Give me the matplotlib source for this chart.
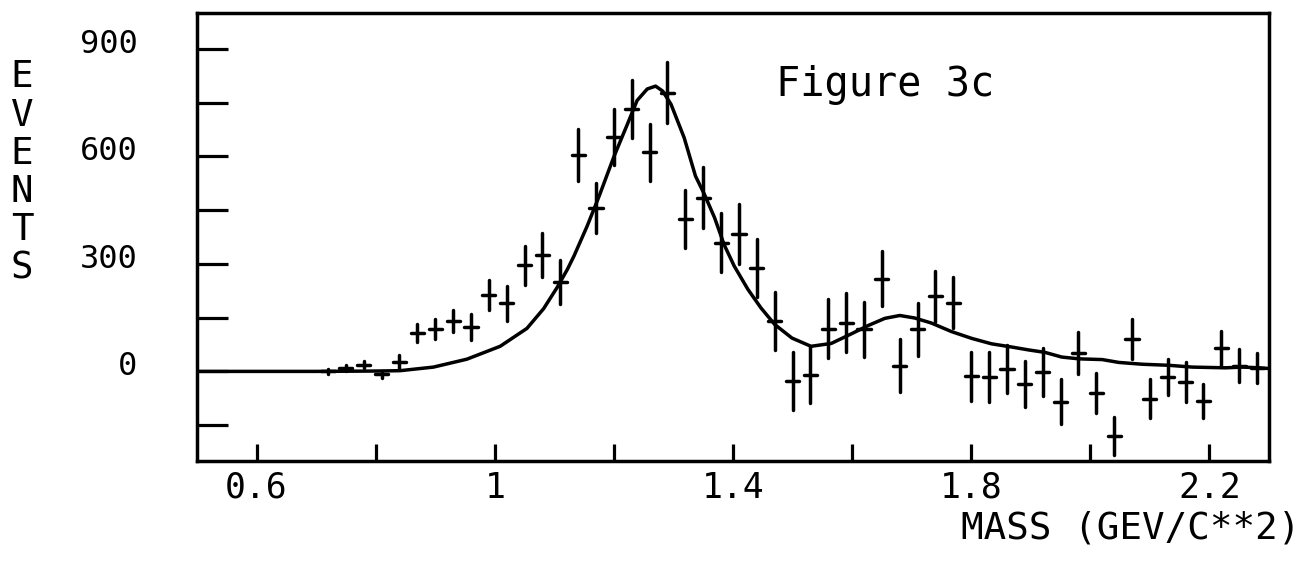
import matplotlib
matplotlib.use("Agg")
import matplotlib.pyplot as plt
from matplotlib.transforms import ScaledTranslation

mass = [0.72, 0.75, 0.78, 0.81, 0.84, 0.87, 0.90, 0.93, 0.96, 0.99,
        1.02, 1.05, 1.08, 1.11, 1.14, 1.17, 1.20, 1.23, 1.26, 1.29,
        1.32, 1.35, 1.38, 1.41, 1.44, 1.47, 1.50, 1.53, 1.56, 1.59,
        1.62, 1.65, 1.68, 1.71, 1.74, 1.77, 1.80, 1.83, 1.86, 1.89,
        1.92, 1.95, 1.98, 2.01, 2.04, 2.07, 2.10, 2.13, 2.16, 2.19,
        2.22, 2.25, 2.28]
events = [0, 10, 19, -8, 27, 107, 118, 141, 124, 214,
          190, 296, 325, 249, 604, 456, 654, 732, 611, 777,
          425, 485, 359, 383, 288, 140, -27, -9, 119, 136,
          118, 259, 16, 117, 209, 192, -14, -15, 7, -35,
          -3, -84, 52, -60, -181, 91, -76, -16, -29, -82,
          65, 16, 9]
errors = [8, 8, 10, 10, 20, 24, 27, 31, 37, 42,
          48, 54, 61, 62, 72, 70, 79, 81, 80, 85,
          80, 86, 83, 84, 81, 81, 82, 80, 83, 82,
          77, 77, 74, 73, 72, 72, 69, 69, 67, 65,
          67, 64, 59, 56, 53, 56, 54, 51, 55, 47,
          49, 46, 42]

# fitted curve, traced point by point
fit_mass = [0.50, 0.60, 0.70, 0.80, 0.841, 0.897, 0.953, 1.009, 1.054, 1.082,
            1.105, 1.122, 1.133, 1.155, 1.175, 1.200, 1.223, 1.239, 1.256, 1.270,
            1.282, 1.296, 1.318, 1.337, 1.352, 1.369, 1.385, 1.402, 1.425, 1.447,
            1.470, 1.499, 1.531, 1.565, 1.599, 1.627, 1.655, 1.680, 1.705, 1.733,
            1.767, 1.801, 1.834, 1.868, 1.896, 1.924, 1.952, 1.981, 2.020, 2.048,
            2.087, 2.132, 2.171, 2.227, 2.256, 2.284, 2.300]
fit_events = [0, 0, 0, 1, 2, 12, 34, 70, 120, 175,
              235, 285, 322, 405, 488, 599, 691, 756, 788, 796,
              782, 745, 652, 545, 494, 429, 354, 294, 229, 177,
              131, 93, 70, 78, 105, 128, 148, 156, 149, 135,
              111, 92, 77, 68, 60, 53, 40, 35, 33, 25,
              20, 17, 12, 10, 12, 10, 8]

x_ticks = [0.6, 0.8, 1.0, 1.2, 1.4, 1.6, 1.8, 2.0, 2.2]
x_labels = ["0.6", "", "1", "", "1.4", "", "1.8", "", "2.2"]
y_ticks = [-150, 0, 150, 300, 450, 600, 750, 900]
y_labels = ["", "0", "", "300", "", "600", "", "900"]

plt.rcParams['font.family'] = ['DejaVu Sans Mono', 'DejaVu Sans']

fig = plt.figure(figsize=(13.11, 5.63), dpi=100)
ax = fig.add_axes([197 / 1311, 1 - 461 / 563, 1072 / 1311, 448 / 563])

ax.plot(fit_mass, fit_events, color='black', lw=2.5, solid_joinstyle='round')
eb = ax.errorbar(mass, events, yerr=errors, xerr=0.011, fmt='none',
                 ecolor='black', elinewidth=2.5, capsize=0)
for lc in eb[2]:
    lc.set_capstyle('round')

ax.set_xlim(0.5, 2.3)
ax.set_ylim(-250, 1000)

ax.set_xticks(x_ticks)
ax.set_xticklabels(x_labels, fontsize=25)
ax.set_yticks(y_ticks)
ax.set_yticklabels(y_labels, fontsize=23)
ax.tick_params(axis='x', direction='in', length=12, width=2.3, pad=7)
ax.tick_params(axis='y', direction='in', length=22, width=2.3, pad=43)
for spine in ax.spines.values():
    spine.set_linewidth(2.5)

# y labels sit a little above their ticks in the original
shift = ScaledTranslation(0, 8 / 100, fig.dpi_scale_trans)
for lab in ax.get_yticklabels():
    lab.set_transform(lab.get_transform() + shift)

fig.text(22 / 1311, 1 - 173 / 563, "E\nV\nE\nN\nT\nS", fontsize=27,
         ha='center', va='center', linespacing=1.08)
fig.text(1300 / 1311, 1 - 528 / 563, "MASS (GEV/C**2)", fontsize=27,
         ha='right', va='center')
fig.text(885 / 1311, 1 - 85 / 563, "Figure 3c", fontsize=29,
         ha='center', va='center')

fig.savefig("out.png", dpi=100)
